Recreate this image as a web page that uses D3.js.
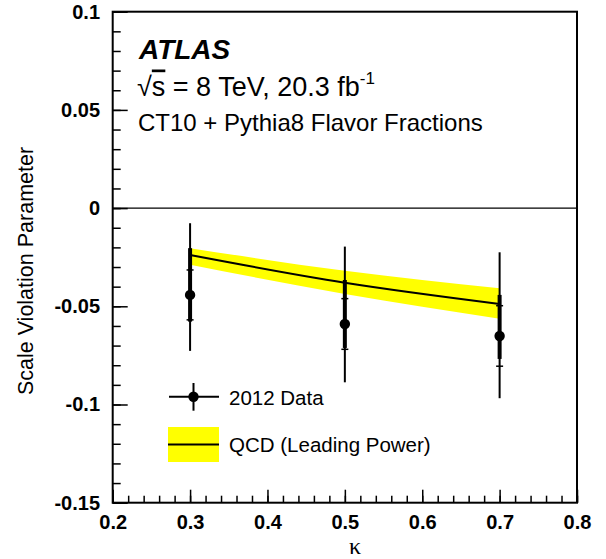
<!DOCTYPE html>
<html><head><meta charset="utf-8">
<script src="https://cdn.jsdelivr.net/npm/d3@7/dist/d3.min.js"></script>
<style>body{margin:0;background:#fff}svg{display:block}</style>
</head><body>
<script>
// ---- data ----
const kappa = [0.3, 0.5, 0.7];
const dataValue = [-0.0442, -0.0590, -0.0651];
const thickUp = [0.0238, 0.0224, 0.0209];
const thickDown = [0.0136, 0.0122, 0.0117];
const tickErr = [0.0127, 0.0129, 0.0154];
const totalUp = [0.0365, 0.0394, 0.0426];
const totalDown = [0.0285, 0.0297, 0.0317];
const qcdCentral = [-0.0239, -0.0380, -0.0488];
const qcdHigh = [-0.0204, -0.0319, -0.0408];
const qcdLow = [-0.0289, -0.0437, -0.0563];
const xTicks = [0.2, 0.3, 0.4, 0.5, 0.6, 0.7, 0.8];
const yTicks = [-0.15, -0.1, -0.05, 0, 0.05, 0.1];
const yTickLabels = ["-0.15", "-0.1", "-0.05", "0", "0.05", "0.1"];

const W = 606, H = 559;
const m = {l: 112.7, t: 11.7, r: 29, b: 56.3};
const svg = d3.select("body").append("svg").attr("width", W).attr("height", H)
  .style("font-family", "'Liberation Sans', Arial, Helvetica, sans-serif");
const x = d3.scaleLinear().domain([0.2, 0.8]).range([m.l, W - m.r]);
const y = d3.scaleLinear().domain([-0.15, 0.1]).range([H - m.b, m.t]);

// QCD band
const band = kappa.map((k, i) => ({k, c: qcdCentral[i], hi: qcdHigh[i], lo: qcdLow[i]}));
svg.append("path").datum(band)
  .attr("d", d3.area().x(d => x(d.k)).y0(d => y(d.lo)).y1(d => y(d.hi)).curve(d3.curveMonotoneX))
  .attr("fill", "#ffff00");

// zero line
svg.append("line").attr("x1", x(0.2)).attr("x2", x(0.8)).attr("y1", y(0)).attr("y2", y(0))
  .attr("stroke", "#000").attr("stroke-width", 1.2);

svg.append("path").datum(band)
  .attr("d", d3.line().x(d => x(d.k)).y(d => y(d.c)).curve(d3.curveMonotoneX))
  .attr("fill", "none").attr("stroke", "#000").attr("stroke-width", 2);

// axes
const xMinor = d3.range(0.2, 0.8001, 0.02);
const yMinor = d3.range(-0.15, 0.1001, 0.01);
const gx = svg.append("g").attr("transform", `translate(0,${H - m.b})`);
gx.call(d3.axisBottom(x).tickValues(xMinor).tickSizeInner(-7).tickSizeOuter(0).tickFormat(""));
gx.call(g => g.select(".domain").remove());
const gx2 = svg.append("g").attr("transform", `translate(0,${H - m.b})`);
gx2.call(d3.axisBottom(x).tickValues(xTicks).tickSizeInner(-13).tickSizeOuter(0).tickPadding(12)
  .tickFormat(d3.format(".1f")));
gx2.call(g => g.select(".domain").remove());
gx2.selectAll("text").attr("font-size", 20).attr("font-weight", "bold")
  .style("font-family", "'Liberation Sans', Arial, sans-serif").attr("fill", "#000");

const gy = svg.append("g").attr("transform", `translate(${m.l},0)`);
gy.call(d3.axisLeft(y).tickValues(yMinor).tickSizeInner(-8).tickSizeOuter(0).tickFormat(""));
gy.call(g => g.select(".domain").remove());
const gy2 = svg.append("g").attr("transform", `translate(${m.l},0)`);
gy2.call(d3.axisLeft(y).tickValues(yTicks).tickSizeInner(-15).tickSizeOuter(0).tickPadding(12.7)
  .tickFormat((d, i) => yTickLabels[i]));
gy2.call(g => g.select(".domain").remove());
gy2.selectAll("text").attr("font-size", 20).attr("font-weight", "bold")
  .style("font-family", "'Liberation Sans', Arial, sans-serif").attr("fill", "#000");
svg.selectAll(".tick line").attr("stroke", "#000").attr("stroke-width", 1.5);

// frame
svg.append("rect").attr("x", m.l).attr("y", m.t).attr("width", W - m.r - m.l).attr("height", H - m.b - m.t)
  .attr("fill", "none").attr("stroke", "#000").attr("stroke-width", 2);

// data points
const pts = kappa.map((k, i) => ({k, v: dataValue[i], tu: thickUp[i], td: thickDown[i], e: tickErr[i], u: totalUp[i], d: totalDown[i]}));
const gp = svg.append("g");
gp.selectAll(".tot").data(pts).join("line")
  .attr("x1", d => x(d.k)).attr("x2", d => x(d.k))
  .attr("y1", d => y(d.v + d.u)).attr("y2", d => y(d.v - d.d))
  .attr("stroke", "#000").attr("stroke-width", 2);
gp.selectAll(".thk").data(pts).join("line")
  .attr("x1", d => x(d.k)).attr("x2", d => x(d.k))
  .attr("y1", d => y(d.v + d.tu)).attr("y2", d => y(d.v - d.td))
  .attr("stroke", "#000").attr("stroke-width", 4);
[1, -1].forEach(s => {
  gp.selectAll(".tk" + s).data(pts).join("line")
    .attr("x1", d => x(d.k) - 3.5).attr("x2", d => x(d.k) + 3.5)
    .attr("y1", d => y(d.v + s * d.e)).attr("y2", d => y(d.v + s * d.e))
    .attr("stroke", "#000").attr("stroke-width", 1.5);
});
gp.selectAll("circle").data(pts).join("circle")
  .attr("cx", d => x(d.k)).attr("cy", d => y(d.v)).attr("r", 5.2).attr("fill", "#000");

// legend
const lg = svg.append("g");
lg.append("line").attr("x1", 169).attr("x2", 219).attr("y1", 396.7).attr("y2", 396.7).attr("stroke", "#000").attr("stroke-width", 2);
lg.append("line").attr("x1", 193.5).attr("x2", 193.5).attr("y1", 383).attr("y2", 410.7).attr("stroke", "#000").attr("stroke-width", 2);
lg.append("circle").attr("cx", 193.5).attr("cy", 396.7).attr("r", 5.2).attr("fill", "#000");
lg.append("text").attr("x", 229).attr("y", 404.5).attr("font-size", 20.5).text("2012 Data");
lg.append("rect").attr("x", 168).attr("y", 427).attr("width", 51).attr("height", 35).attr("fill", "#ffff00");
lg.append("line").attr("x1", 168).attr("x2", 219).attr("y1", 444.5).attr("y2", 444.5).attr("stroke", "#000").attr("stroke-width", 2);
lg.append("text").attr("x", 229).attr("y", 452).attr("font-size", 20.5).text("QCD (Leading Power)");

// labels
svg.append("text").attr("x", 139).attr("y", 58.5).attr("font-size", 28).attr("font-weight", "bold")
  .attr("font-style", "italic").text("ATLAS");
const t2 = svg.append("text").attr("x", 137).attr("y", 95.5).attr("font-size", 27);
t2.append("tspan").text("√");
t2.append("tspan").style("text-decoration", "overline").text("s");
t2.append("tspan").text(" = 8 TeV, 20.3 fb");
t2.append("tspan").attr("dy", -12).attr("font-size", 17).text("-1");
svg.append("text").attr("x", 138).attr("y", 131).attr("font-size", 24).text("CT10 + Pythia8 Flavor Fractions");

svg.append("text").attr("transform", "translate(33,271) rotate(-90)").attr("text-anchor", "middle")
  .attr("font-size", 21.5).text("Scale Violation Parameter");
svg.append("text").attr("x", 355).attr("y", 554).attr("text-anchor", "middle")
  .attr("font-size", 24).style("font-family", "'Liberation Serif', 'DejaVu Serif', serif").text("κ");
</script>
</body></html>
